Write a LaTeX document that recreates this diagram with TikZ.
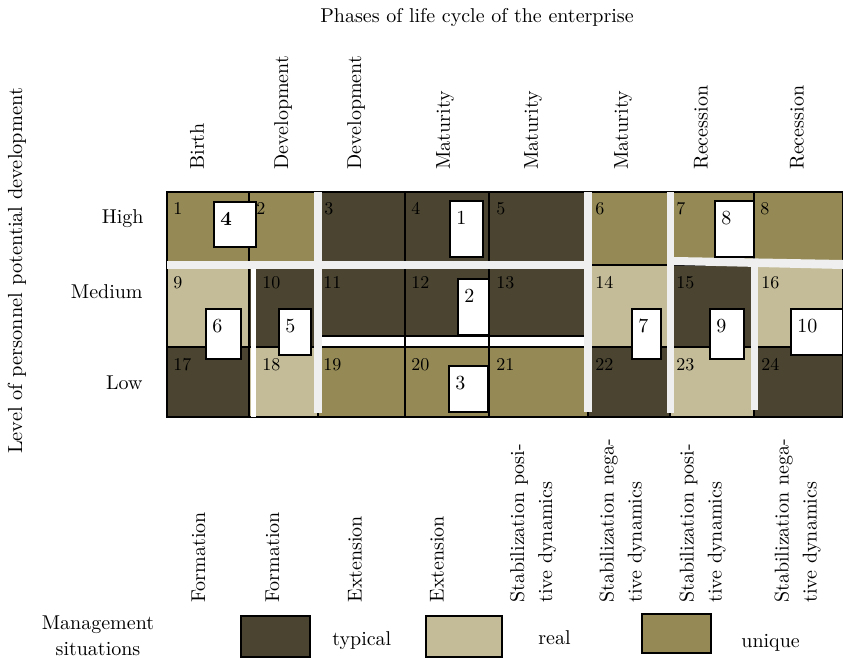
\documentclass[tikz,border=0pt]{standalone}
\definecolor{typical}{HTML}{4A4430}
\definecolor{real}{HTML}{C4BC98}
\definecolor{unique}{HTML}{958A55}
\definecolor{bargray}{HTML}{EFEFEF}
\begin{document}
\begin{tikzpicture}[x=1pt,y=-1pt,
  txt/.style={font=\fontsize{10}{12}\selectfont, scale=2, inner sep=0pt},
  cnum/.style={font=\fontsize{10}{12}\selectfont, scale=1.8, inner sep=0pt, anchor=base west},
  bnum/.style={font=\fontsize{10}{12}\selectfont, scale=2, inner sep=0pt, anchor=base west},
  cellbox/.style={draw=black, line width=1.2pt},
  sitbox/.style={draw=black, line width=1.4pt, fill=white},
  legbox/.style={draw=black, line width=1.5pt},
  graybar/.style={fill=bargray},
  whitebar/.style={fill=white},
  toplab/.style={txt, rotate=90, anchor=west},
  botlab/.style={txt, rotate=90, anchor=west, align=left, font=\fontsize{10}{14}\selectfont},
]
\useasboundingbox (0,0) rectangle (843,658);

% title
\node[txt, anchor=base] (title) at (477,23) {Phases of life cycle of the enterprise};

% phase labels (top)
\node[toplab] (p1) at (197,170) {Birth};
\node[toplab] (p2) at (283,170) {Development};
\node[toplab] (p3) at (356,170) {Development};
\node[toplab] (p4) at (445,170) {Maturity};
\node[toplab] (p5) at (533,170) {Maturity};
\node[toplab] (p6) at (623,170) {Maturity};
\node[toplab] (p7) at (701,170) {Recession};
\node[toplab] (p8) at (797,170) {Recession};

% axis label
\node[txt, rotate=90, scale=1.02] (ylab) at (17,271) {Level of personnel potential development};
\node[txt, anchor=base east] (high) at (144,223) {High};
\node[txt, anchor=base east] (medium) at (143,298) {Medium};
\node[txt, anchor=base east] (low) at (143,389) {Low};

% cells
\foreach \xa/\xb/\c in {167/249/unique,249/318/unique,318/405/typical,405/489/typical,489/588/typical,588/670/unique,670/754/unique,754/843/unique}
  \path[cellbox, fill=\c] (\xa,192) rectangle (\xb,265);
\foreach \xa/\xb/\c in {167/249/real,249/318/typical,318/405/typical,405/489/typical,489/588/typical,588/670/real,670/754/typical,754/843/real}
  \path[cellbox, fill=\c] (\xa,265) rectangle (\xb,347);
\foreach \xa/\xb/\c in {167/249/typical,249/318/real,318/405/unique,405/489/unique,489/588/unique,588/670/typical,670/754/real,754/843/typical}
  \path[cellbox, fill=\c] (\xa,347) rectangle (\xb,417);
\draw[line width=2pt] (167,417) -- (843,417);

% separating bars
\path[whitebar] (250.6,268) rectangle (255.6,417);
\path[graybar] (167,261) rectangle (584,269);
\path[graybar] (674,257) -- (843,260) -- (843,269) -- (674,265) -- cycle;
\path[whitebar] (322,336.6) rectangle (586,346.4);
\draw[line width=1.2pt] (322,336) -- (584,336);
\draw[line width=1.2pt] (405,336) -- (405,347);
\draw[line width=1.2pt] (489,336) -- (489,347);
\path[graybar] (314,192) rectangle (322,413);
\path[graybar] (584,192) rectangle (592,412);
\path[graybar] (667,192) rectangle (674,413);
\path[graybar] (751,266) rectangle (758,410);

% cell numbers
\foreach \x/\t in {173/1,256/2,324/3,411/4,496/5,595/6,676/7,760/8}
  \node[cnum] (n\t) at (\x,214) {\t};
\foreach \x/\t in {173/9,262/10,323/11,411/12,496/13,595/14,676/15,761/16}
  \node[cnum] (n\t) at (\x,288) {\t};
\foreach \x/\t in {173/17,262/18,323/19,411/20,496/21,595/22,676/23,761/24}
  \node[cnum] (n\t) at (\x,370) {\t};

% situation boxes
\foreach \xa/\ya/\xb/\yb/\t in {450/201/483/257/1,458/279/489/335/2,449/366/488/412/3,279/309/311/355/5,206/309/241/359/6,632/309/661/359/7,715/201/754/257/8,710/309/744/359/9,791/309/843/355/10}{
  \path[sitbox] (\xa,\ya) rectangle (\xb,\yb);
  \node[bnum] (s\t) at (\xa+6,\ya+23) {\t};
}
\path[sitbox] (214,202) rectangle (256,247);
\node[bnum] (s4) at (220,225) {\textbf{4}};

% types of crisis (bottom)
\node[botlab] (b1) at (198.5,603) {Formation};
\node[botlab] (b2) at (272.5,603) {Formation};
\node[botlab] (b3) at (355,603) {Extension};
\node[botlab] (b4) at (437,603) {Extension};
\node[botlab] (b5) at (533,603) {Stabilization posi-\\tive dynamics};
\node[botlab] (b6) at (622.5,603) {Stabilization nega-\\tive dynamics};
\node[botlab] (b7) at (702.5,603) {Stabilization posi-\\tive dynamics};
\node[botlab] (b8) at (797.5,603) {Stabilization nega-\\tive dynamics};

% legend
\node[txt, align=center, font=\fontsize{10}{13}\selectfont] (ms) at (98,636) {Management\\situations};
\path[legbox, fill=typical] (241,616) rectangle (310,657);
\node[txt, anchor=base west] (lt) at (332,645) {typical};
\path[legbox, fill=real] (426,616) rectangle (502,657);
\node[txt, anchor=base west] (lr) at (538,644) {real};
\path[legbox, fill=unique] (642,614) rectangle (711,653);
\node[txt, anchor=base west] (lu) at (741,647) {unique};
\end{tikzpicture}
\end{document}
